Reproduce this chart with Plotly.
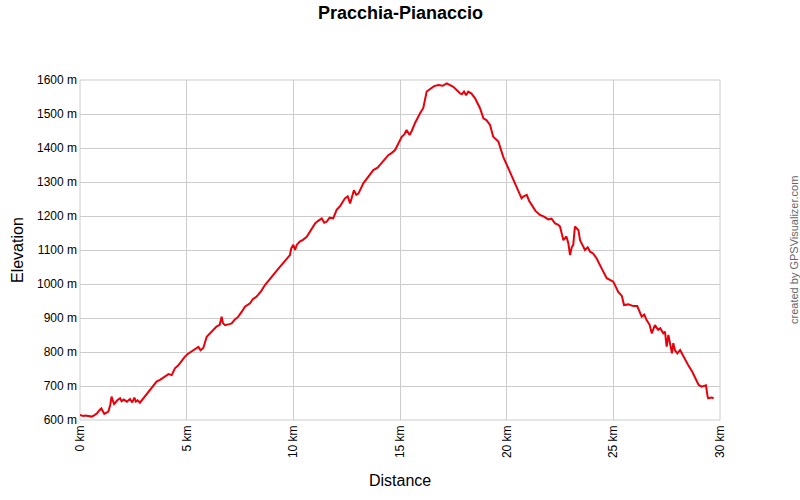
import plotly.graph_objects as go

distance_km = [0.0, 0.15, 0.25, 0.4, 0.55, 0.7, 0.8, 0.9, 1.0, 1.14, 1.25, 1.33, 1.42, 1.48, 1.55, 1.6, 1.75, 1.88, 1.95, 2.05, 2.2, 2.34, 2.45, 2.55, 2.62, 2.7, 2.81, 2.95, 3.05, 3.15, 3.28, 3.45, 3.59, 3.75, 3.85, 3.98, 4.15, 4.3, 4.45, 4.6, 4.77, 4.9, 5.05, 5.2, 5.39, 5.55, 5.65, 5.78, 5.94, 6.17, 6.4, 6.55, 6.64, 6.7, 6.8, 7.0, 7.11, 7.25, 7.42, 7.6, 7.73, 7.97, 8.1, 8.28, 8.5, 8.67, 8.9, 9.14, 9.3, 9.5, 9.7, 9.84, 9.9, 10.0, 10.08, 10.16, 10.3, 10.45, 10.63, 10.8, 11.02, 11.15, 11.33, 11.45, 11.56, 11.7, 11.87, 12.03, 12.2, 12.42, 12.55, 12.66, 12.84, 12.95, 13.05, 13.28, 13.52, 13.75, 13.95, 14.14, 14.3, 14.45, 14.6, 14.77, 15.08, 15.2, 15.31, 15.45, 15.55, 15.7, 15.94, 16.09, 16.25, 16.48, 16.6, 16.8, 17.0, 17.19, 17.35, 17.5, 17.81, 17.9, 18.0, 18.1, 18.2, 18.35, 18.52, 18.75, 18.91, 19.05, 19.22, 19.37, 19.61, 19.84, 20.08, 20.31, 20.5, 20.7, 20.8, 20.94, 21.05, 21.17, 21.35, 21.56, 21.75, 21.95, 22.1, 22.27, 22.4, 22.5, 22.66, 22.8, 22.89, 22.97, 23.05, 23.12, 23.2, 23.36, 23.44, 23.55, 23.67, 23.8, 23.91, 24.05, 24.22, 24.45, 24.69, 25.0, 25.1, 25.23, 25.4, 25.5, 25.7, 25.94, 26.12, 26.33, 26.45, 26.56, 26.7, 26.8, 26.95, 27.1, 27.2, 27.34, 27.42, 27.5, 27.58, 27.66, 27.75, 27.81, 27.89, 28.0, 28.13, 28.28, 28.4, 28.52, 28.7, 28.83, 29.0, 29.14, 29.34, 29.42, 29.45, 29.6, 29.7, 29.84]
elevation_m = [615, 612, 613, 611, 610, 615, 620, 628, 634, 618, 622, 625, 645, 669, 655, 647, 658, 664, 655, 660, 654, 662, 652, 666, 654, 658, 651, 662, 669, 675, 688, 700, 713, 718, 722, 727, 735, 732, 752, 760, 776, 785, 794, 800, 806, 815, 805, 812, 845, 860, 875, 880, 904, 885, 879, 882, 884, 895, 904, 920, 933, 943, 955, 963, 980, 997, 1015, 1036, 1045, 1060, 1075, 1085, 1105, 1115, 1100, 1115, 1125, 1130, 1139, 1155, 1178, 1185, 1193, 1180, 1183, 1195, 1193, 1218, 1230, 1252, 1258, 1237, 1276, 1262, 1266, 1296, 1316, 1335, 1342, 1355, 1368, 1379, 1385, 1394, 1433, 1440, 1453, 1438, 1450, 1473, 1502, 1517, 1566, 1576, 1582, 1585, 1583, 1590, 1586, 1580, 1561, 1558, 1566, 1555, 1566, 1560, 1546, 1517, 1487, 1482, 1468, 1433, 1419, 1374, 1340, 1306, 1280, 1252, 1258, 1262, 1245, 1232, 1215, 1203, 1198, 1190, 1192, 1178, 1175, 1169, 1129, 1140, 1120, 1085, 1108, 1115, 1169, 1159, 1129, 1115, 1100, 1108, 1095, 1090, 1075, 1046, 1017, 1007, 995, 977, 965, 938, 940, 935, 935, 904, 910, 894, 880, 855, 879, 865, 870, 855, 860, 816, 850, 820, 796, 826, 805, 796, 806, 788, 772, 760, 742, 725, 703, 698, 702, 669, 664, 666, 664]

x_ticks = [0, 5, 10, 15, 20, 25, 30]
x_tick_labels = ["0 km", "5 km", "10 km", "15 km", "20 km", "25 km", "30 km"]
y_ticks = [600, 700, 800, 900, 1000, 1100, 1200, 1300, 1400, 1500, 1600]
y_tick_labels = ["600 m", "700 m", "800 m", "900 m", "1000 m", "1100 m", "1200 m",
                 "1300 m", "1400 m", "1500 m", "1600 m"]

fig = go.Figure()
fig.add_trace(go.Scatter(
    x=distance_km, y=elevation_m, mode="lines",
    line=dict(color="#e8000b", width=2), hoverinfo="x+y", showlegend=False,
))

font_family = "Liberation Sans, Arial, sans-serif"
fig.update_layout(
    width=800, height=500,
    margin=dict(l=80, r=80, t=80, b=80, pad=0),
    paper_bgcolor="white", plot_bgcolor="white",
    font=dict(family=font_family, color="black", size=12),
    xaxis=dict(range=[0, 30], tickvals=x_ticks, ticktext=x_tick_labels, tickangle=-90,
               showgrid=True, gridcolor="#cccccc", gridwidth=1, automargin=False,
               zeroline=False, showline=False, ticks="", ticklabelstandoff=2),
    yaxis=dict(range=[600, 1600], tickvals=y_ticks, ticktext=y_tick_labels,
               showgrid=True, gridcolor="#cccccc", gridwidth=1, automargin=False,
               zeroline=False, showline=False, ticks="", ticklabelstandoff=2),
    annotations=[
        dict(text="<b>Pracchia-Pianaccio</b>", xref="paper", yref="paper",
             x=0.5, y=1.197, xanchor="center", yanchor="middle", showarrow=False,
             font=dict(size=18)),
        dict(text="Elevation", textangle=-90, xref="paper", yref="paper",
             x=-0.0984, y=0.5, xanchor="center", yanchor="middle", showarrow=False,
             font=dict(size=16)),
        dict(text="Distance", xref="paper", yref="paper",
             x=0.5, y=-0.179, xanchor="center", yanchor="middle", showarrow=False,
             font=dict(size=16)),
        dict(text="created by GPSVisualizer.com", textangle=-90,
             xref="paper", yref="paper", x=1.1156, y=0.5,
             xanchor="center", yanchor="middle", showarrow=False,
             font=dict(size=11, color="#666666")),
    ],
)
fig.add_shape(type="rect", xref="paper", yref="paper", x0=0, y0=0, x1=1, y1=1,
              line=dict(color="#cccccc", width=1), layer="below")

fig.write_html("out.html", config={"displayModeBar": False},
               post_script="document.body.style.margin='0';")
